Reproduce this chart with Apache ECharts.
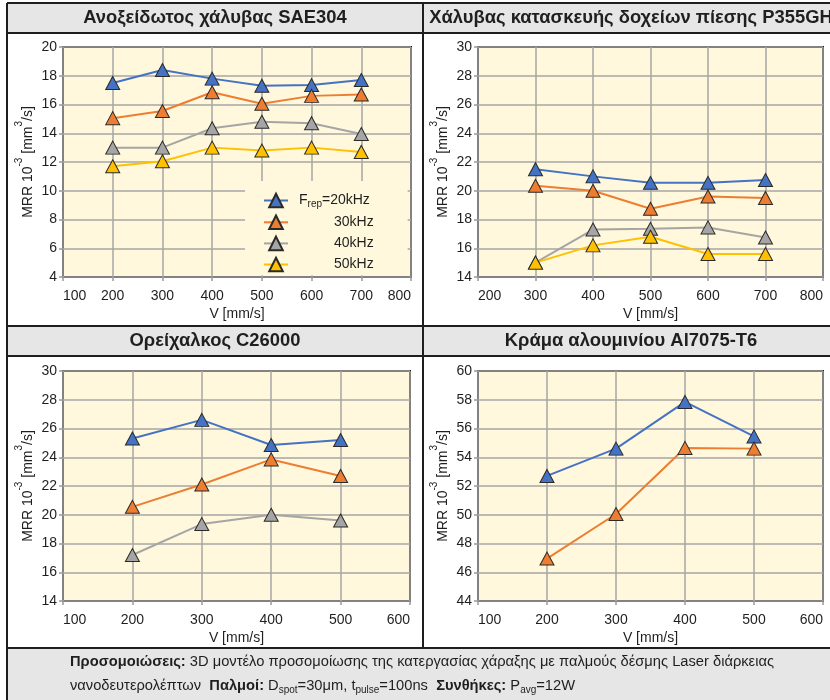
<!DOCTYPE html>
<html>
<head>
<meta charset="utf-8">
<script src="https://cdn.jsdelivr.net/npm/echarts@6/dist/echarts.min.js"></script>
<style>
  html, body { margin: 0; padding: 0; background: #fff; }
  #chart { width: 830px; height: 700px; }
</style>
</head>
<body>
<div id="chart"></div>
<script>
// speeds V [mm/s]
const speedsSae = [200, 300, 400, 500, 600, 700]
const speedsP355 = [300, 400, 500, 600, 700]
const speedsBrass = [200, 300, 400, 500]
const speedsAl = [200, 300, 400, 500]
const freqNames = ['20kHz', '30kHz', '40kHz', '50kHz']

// MRR 10^-3 [mm^3/s]
const sae20 = [17.5, 18.4, 17.8, 17.3, 17.35, 17.7]
const sae30 = [15.05, 15.55, 16.85, 16.05, 16.6, 16.7]
const sae40 = [13.0, 13.0, 14.35, 14.8, 14.7, 13.95]
const sae50 = [11.7, 12.05, 13.0, 12.8, 13.0, 12.7]

const p35520 = [21.5, 21.0, 20.55, 20.55, 20.75]
const p35530 = [20.35, 20.0, 18.75, 19.6, 19.5]
const p35540 = [15.0, 17.3, 17.35, 17.45, 16.75]
const p35550 = [15.0, 16.2, 16.8, 15.6, 15.6]

const brass20 = [25.3, 26.6, 24.85, 25.2]
const brass30 = [20.55, 22.1, 23.85, 22.7]
const brass40 = [17.2, 19.35, 20.0, 19.6]

const al20 = [52.7, 54.6, 57.85, 55.45]
const al30 = [46.95, 50.05, 54.65, 54.6]

const panelTitles = [
  'Ανοξείδωτος χάλυβας SAE304',
  'Χάλυβας κατασκευής δοχείων πίεσης P355GH',
  'Ορείχαλκος C26000',
  'Κράμα αλουμινίου Al7075-T6'
]

const colors = ['#4472c4', '#ed7d31', '#a5a5a5', '#ffc000']
const font = '"Liberation Sans", Arial, sans-serif'
const ink = '#1f1f1f'

const panels = [
  { speeds: speedsSae, series: [sae20, sae30, sae40, sae50], xMin: 100, xMax: 800, yMin: 4, yMax: 20 },
  { speeds: speedsP355, series: [p35520, p35530, p35540, p35550], xMin: 200, xMax: 800, yMin: 14, yMax: 30 },
  { speeds: speedsBrass, series: [brass20, brass30, brass40], xMin: 100, xMax: 600, yMin: 14, yMax: 30 },
  { speeds: speedsAl, series: [al20, al30], xMin: 100, xMax: 600, yMin: 44, yMax: 60 }
]

const grids = [
  { left: 63, top: 47, width: 348, height: 230 },
  { left: 478, top: 47, width: 345, height: 230 },
  { left: 63, top: 371, width: 347, height: 230 },
  { left: 478, top: 371, width: 345, height: 230 }
].map(g => ({
  ...g,
  show: true,
  backgroundColor: '#fff8dc',
  borderColor: '#1a1a1a',
  borderWidth: 2
}))

const xAxes = panels.map((p, i) => ({
  type: 'value',
  gridIndex: i,
  min: p.xMin,
  max: p.xMax,
  interval: 100,
  name: 'V [mm/s]',
  nameLocation: 'middle',
  nameGap: 30,
  nameTextStyle: { fontSize: 14, color: ink, fontFamily: font },
  axisLine: { show: false },
  axisTick: { show: true, length: 4, lineStyle: { color: '#999', width: 1.5 } },
  axisLabel: { margin: 12, fontSize: 14, color: ink, fontFamily: font, alignMinLabel: 'left', alignMaxLabel: 'right' },
  splitLine: { show: true, lineStyle: { color: '#a6a6a6', width: 1.5 } }
}))

const yAxes = panels.map((p, i) => ({
  type: 'value',
  gridIndex: i,
  min: p.yMin,
  max: p.yMax,
  interval: 2,
  name: '{t|MRR 10}{u|-3}{t| [mm}{u|3}{t|/s]}',
  nameLocation: 'middle',
  nameRotate: 90,
  nameGap: 21,
  nameMoveOverlap: false,
  nameTextStyle: {
    fontSize: 14, color: ink, fontFamily: font,
    rich: {
      t: { fontSize: 14, lineHeight: 28, color: ink, fontFamily: font },
      u: { fontSize: 10, lineHeight: 10, padding: [0, 0, 18, 0], color: ink, fontFamily: font }
    }
  },
  axisLine: { show: false },
  axisTick: { show: true, length: 4, lineStyle: { color: '#999', width: 1.5 } },
  axisLabel: { margin: 6, fontSize: 14, color: ink, fontFamily: font },
  splitLine: { show: true, lineStyle: { color: '#a6a6a6', width: 1.5 } }
}))

const series = []
panels.forEach((p, i) => {
  p.series.forEach((vals, k) => {
    series.push({
      name: freqNames[k],
      type: 'line',
      xAxisIndex: i,
      yAxisIndex: i,
      data: vals.map((v, j) => [p.speeds[j], v]),
      symbol: 'triangle',
      symbolSize: [14, 13],
      lineStyle: { color: colors[k], width: 2 },
      itemStyle: { color: colors[k], borderColor: '#2a2a2a', borderWidth: 1 },
      z: 3
    })
  })
})

const line = (x1, y1, x2, y2) => ({
  type: 'line',
  shape: { x1, y1, x2, y2 },
  style: { stroke: '#1e1e1e', lineWidth: 2 },
  z: 10
})

const capRich = {
  b: { fontWeight: 'bold', fontSize: 14.7, lineHeight: 20, fontFamily: font, fill: ink },
  s: { fontSize: 10, lineHeight: 11, padding: [9, 0, 0, 0], fontFamily: font, fill: ink }
}

const graphic = [
  // title bars and caption area
  { type: 'rect', shape: { x: 7, y: 3, width: 830, height: 30 }, style: { fill: '#e6e6e6' }, z: -1 },
  { type: 'rect', shape: { x: 7, y: 326, width: 830, height: 30 }, style: { fill: '#e6e6e6' }, z: -1 },
  { type: 'rect', shape: { x: 7, y: 648, width: 830, height: 60 }, style: { fill: '#e6e6e6' }, z: -1 },
  line(7, 3, 837, 3),
  line(7, 33, 837, 33),
  line(7, 326, 837, 326),
  line(7, 356, 837, 356),
  line(7, 648, 837, 648),
  line(7, 3, 7, 700),
  line(423, 3, 423, 648),
  ...panelTitles.map((t, i) => ({
    type: 'text',
    x: i % 2 === 0 ? 215 : 631,
    y: i < 2 ? 18 : 341,
    style: {
      text: t, textAlign: 'center', textVerticalAlign: 'middle',
      fontSize: 18.4, fontWeight: 'bold', fontFamily: font, fill: ink
    },
    z: 11
  })),
  {
    type: 'text', x: 70, y: 662,
    style: {
      text: '{b|Προσομοιώσεις:} 3D μοντέλο προσομοίωσης της κατεργασίας χάραξης με παλμούς δέσμης Laser διάρκειας',
      textVerticalAlign: 'middle', fontSize: 14.7, lineHeight: 20, fontFamily: font, fill: ink, rich: capRich
    },
    z: 11
  },
  {
    type: 'text', x: 70, y: 686,
    style: {
      text: 'νανοδευτερολέπτων  {b|Παλμοί:} D{s|spot}=30μm, t{s|pulse}=100ns  {b|Συνθήκες:} P{s|avg}=12W',
      textVerticalAlign: 'middle', fontSize: 14.7, lineHeight: 20, fontFamily: font, fill: ink, rich: capRich
    },
    z: 11
  }
]

const chart = echarts.init(document.getElementById('chart'), null, { renderer: 'canvas' })
chart.setOption({
  animation: false,
  grid: grids,
  xAxis: xAxes,
  yAxis: yAxes,
  legend: {
    orient: 'vertical',
    left: 245,
    top: 181,
    padding: [11, 34, 3, 18],
    backgroundColor: '#fff8dc',
    itemWidth: 24,
    itemHeight: 17,
    itemGap: 5.5,
    data: freqNames,
    selectedMode: false,
    formatter: name => name === '20kHz'
      ? '{p|}{t|F}{s|rep}{t|=20kHz}'
      : '{q|}{t|' + name + '}',
    textStyle: {
      fontSize: 14, color: ink, fontFamily: font,
      rich: {
        p: { width: 6, lineHeight: 17 },
        q: { width: 41, lineHeight: 17 },
        t: { fontSize: 14, lineHeight: 17, color: ink, fontFamily: font },
        s: { fontSize: 10, lineHeight: 10, padding: [7, 0, 0, 0], color: ink, fontFamily: font }
      }
    }
  },
  graphic: graphic,
  series: series
})
</script>
</body>
</html>
